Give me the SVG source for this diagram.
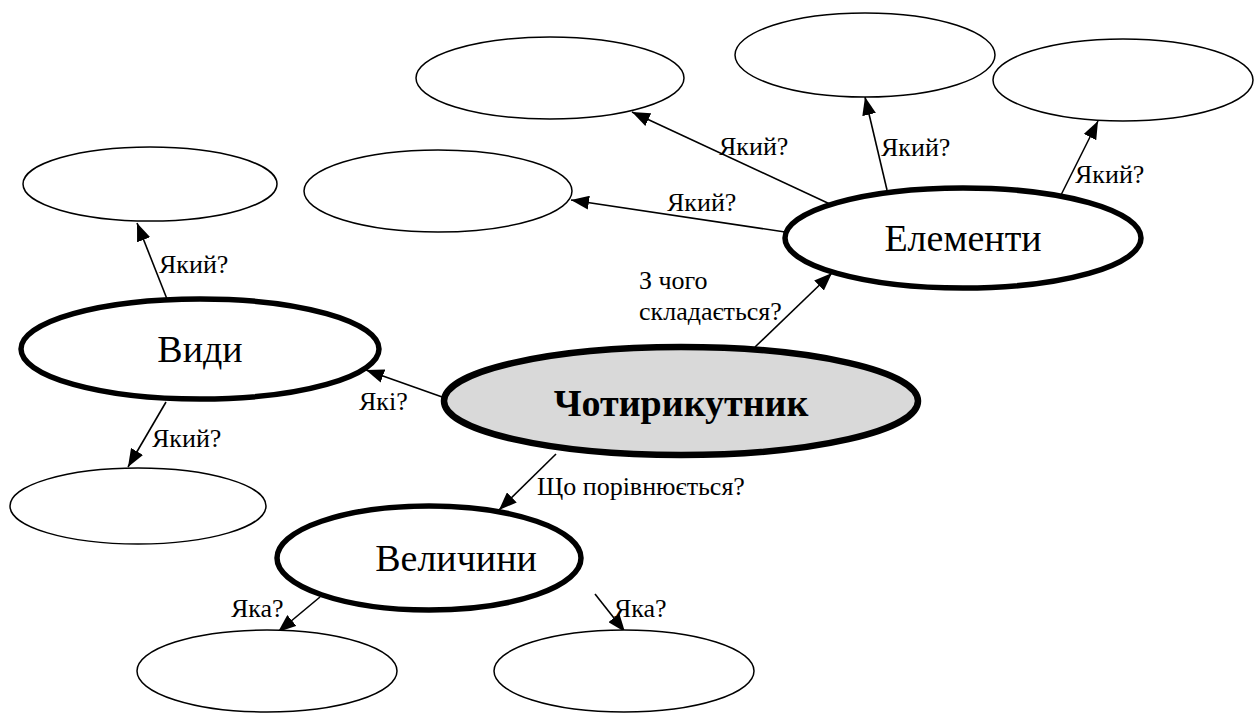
<svg xmlns="http://www.w3.org/2000/svg" width="1259" height="715" viewBox="0 0 1259 715">
<defs>
<marker id="ah" markerUnits="userSpaceOnUse" markerWidth="18" markerHeight="14" viewBox="0 0 18 14" refX="18" refY="7" orient="auto">
<path d="M0,0 L18,7 L0,14 Z" fill="#000"/>
</marker>
</defs>
<style>
.thin{fill:#fff;stroke:#000;stroke-width:1.5}
.thick{fill:#fff;stroke:#000;stroke-width:5.5}
.main{fill:#d9d9d9;stroke:#000;stroke-width:6.5}
text{font-family:'Liberation Serif','Times New Roman',serif;fill:#000}
.big{font-size:38px;text-anchor:middle}
.bold{font-weight:bold}
.lbl{font-size:26px}
.con line{stroke:#000;stroke-width:1.6;marker-end:url(#ah)}
</style>
<rect width="1259" height="715" fill="#fff"/>
<g id="connectors" class="con">
<line x1="832" y1="205" x2="632" y2="112"/>
<line x1="785" y1="232" x2="571" y2="200"/>
<line x1="887" y1="190" x2="865" y2="97"/>
<line x1="1061" y1="195" x2="1098" y2="121"/>
<line x1="755" y1="347" x2="832" y2="273"/>
<line x1="445" y1="398" x2="366" y2="370"/>
<line x1="167" y1="299" x2="137" y2="223"/>
<line x1="166" y1="402" x2="128" y2="467"/>
<line x1="556" y1="454" x2="499" y2="510"/>
<line x1="320" y1="597" x2="278" y2="632"/>
<line x1="595" y1="594" x2="625" y2="632"/>
</g>
<g id="n-top1"><ellipse class="thin" cx="550" cy="78" rx="134" ry="41"/></g>
<g id="n-top2"><ellipse class="thin" cx="865" cy="55" rx="130" ry="42"/></g>
<g id="n-top3"><ellipse class="thin" cx="1123" cy="80" rx="130" ry="41"/></g>
<g id="n-row2"><ellipse class="thin" cx="438" cy="191" rx="134" ry="41"/></g>
<g id="n-left1"><ellipse class="thin" cx="150" cy="184" rx="127" ry="37"/></g>
<g id="n-left2"><ellipse class="thin" cx="138" cy="506" rx="128" ry="38"/></g>
<g id="n-bot1"><ellipse class="thin" cx="267" cy="671" rx="130" ry="41"/></g>
<g id="n-bot2"><ellipse class="thin" cx="624" cy="671" rx="130" ry="41"/></g>
<g id="n-elementy"><ellipse class="thick" cx="963" cy="238" rx="178" ry="50"/><text class="big" x="963" y="251">Елементи</text></g>
<g id="n-vydy"><ellipse class="thick" cx="200" cy="349" rx="179" ry="50"/><text class="big" x="200" y="362">Види</text></g>
<g id="n-velychyny"><ellipse class="thick" cx="429" cy="558" rx="152" ry="52"/><text class="big" x="456" y="571">Величини</text></g>
<g id="n-main"><ellipse class="main" cx="681" cy="401" rx="237" ry="54"/><text class="big bold" x="681" y="416">Чотирикутник</text></g>
<g id="labels">
<text class="lbl" x="719" y="155">Який?</text>
<text class="lbl" x="667" y="211">Який?</text>
<text class="lbl" x="881" y="156">Який?</text>
<text class="lbl" x="1075" y="183">Який?</text>
<text class="lbl" x="159" y="273">Який?</text>
<text class="lbl" x="152" y="447">Який?</text>
<text class="lbl" x="359" y="410">Які?</text>
<text class="lbl" x="639" y="289">З чого</text>
<text class="lbl" x="639" y="320">складається?</text>
<text class="lbl" x="537" y="495">Що порівнюється?</text>
<text class="lbl" x="231" y="617">Яка?</text>
<text class="lbl" x="614" y="617">Яка?</text>
</g>
</svg>
